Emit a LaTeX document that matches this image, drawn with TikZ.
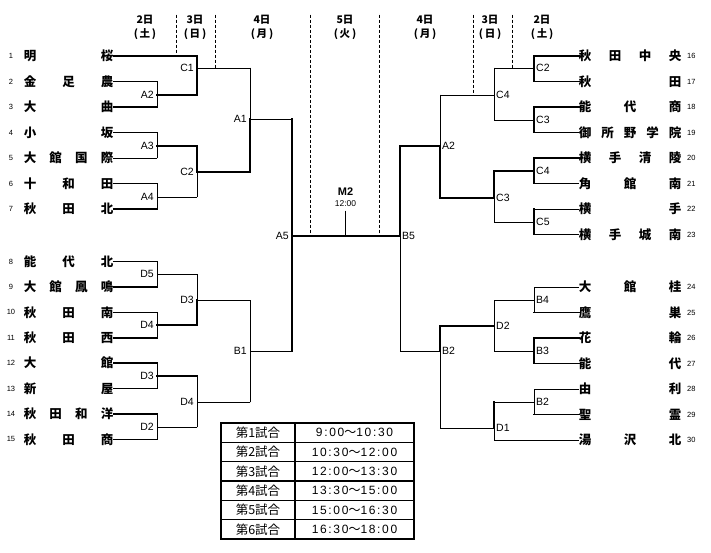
\documentclass[tikz,border=0pt]{standalone}
\usepackage{fontspec}
\setmainfont{Liberation Sans}
\newfontfamily\cjk{Noto Sans CJK JP}
\newfontfamily\labf{Liberation Sans}
\newfontfamily\timf{Liberation Sans}[LetterSpace=14]
\newcommand\wv{{\cjk 〜}}
\newcommand\LT[3]{\node[tname,anchor=east] (t#1) at (113.5,#2) {\makebox[89.5pt]{#3}};
  \node[tnum] (n#1) at (11,#2) {#1};}
\newcommand\RT[3]{\node[tname,anchor=west] (t#1) at (578.75,#2) {\makebox[102.5pt]{#3}};
  \node[tnum,anchor=west] (n#1) at (687,#2) {#1};}
\tikzset{
  tname/.style={inner sep=0pt, font=\cjk\bfseries\fontsize{12.5}{12.5}\selectfont},
  tnum/.style={inner sep=0pt, font=\labf\fontsize{7.5}{7.5}\selectfont},
  mlabL/.style={inner sep=0pt, anchor=east, xshift=-3pt, font=\labf\fontsize{10.5}{10.5}\selectfont},
  mlabR/.style={inner sep=0pt, anchor=west, xshift=2pt, font=\labf\fontsize{10.5}{10.5}\selectfont},
  hdr/.style={inner sep=0pt, font=\cjk\bfseries\fontsize{10.5}{10.5}\selectfont},
  thk/.style={line width=1.6pt},
  thn/.style={line width=0.7pt},
  dsh/.style={line width=0.8pt, dash pattern=on 3pt off 2pt},
  tcell/.style={inner sep=0pt, font=\cjk\fontsize{12.5}{12.5}\selectfont},
  ttime/.style={inner sep=0pt, font=\timf\fontsize{12}{12}\selectfont},
}
\begin{document}
\begin{tikzpicture}[x=1pt,y=-1pt,line cap=rect]
\fill[white] (0,0) rectangle (711,553);
\path[use as bounding box] (0,0) rectangle (711,553);

% ---------------- teams left
\LT{1}{56}{明\hfill 桜}
\LT{2}{81.5}{金\hfill 足\hfill 農}
\LT{3}{107}{大\hfill 曲}
\LT{4}{132.5}{小\hfill 坂}
\LT{5}{158}{大\hfill 館\hfill 国\hfill 際}
\LT{6}{183.5}{十\hfill 和\hfill 田}
\LT{7}{209}{秋\hfill 田\hfill 北}
\LT{8}{261.5}{能\hfill 代\hfill 北}
\LT{9}{287}{大\hfill 館\hfill 鳳\hfill 鳴}
\LT{10}{312.3}{秋\hfill 田\hfill 南}
\LT{11}{337.7}{秋\hfill 田\hfill 西}
\LT{12}{363.1}{大\hfill 館}
\LT{13}{388.5}{新\hfill 屋}
\LT{14}{413.9}{秋\hfill 田\hfill 和\hfill 洋}
\LT{15}{439.3}{秋\hfill 田\hfill 商}
% ---------------- teams right
\RT{16}{56}{秋\hfill 田\hfill 中\hfill 央}
\RT{17}{81.5}{秋\hfill 田}
\RT{18}{107}{能\hfill 代\hfill 商}
\RT{19}{132.5}{御\hfill 所\hfill 野\hfill 学\hfill 院}
\RT{20}{158}{横\hfill 手\hfill 清\hfill 陵}
\RT{21}{183.5}{角\hfill 館\hfill 南}
\RT{22}{209}{横\hfill 手}
\RT{23}{234.5}{横\hfill 手\hfill 城\hfill 南}
\RT{24}{287}{大\hfill 館\hfill 桂}
\RT{25}{312.5}{鷹\hfill 巣}
\RT{26}{338}{花\hfill 輪}
\RT{27}{363.5}{能\hfill 代}
\RT{28}{389}{由\hfill 利}
\RT{29}{414.5}{聖\hfill 霊}
\RT{30}{440}{湯\hfill 沢\hfill 北}

% ---------------- joints (left)
\coordinate (jA2) at (157,95);
\coordinate (jC1) at (197,68);
\coordinate (jA1) at (250,119);
\coordinate (jA3) at (157,146);
\coordinate (jC2) at (197,172);
\coordinate (jA4) at (157,197);
\coordinate (jA5) at (292,236);
\coordinate (jD5) at (157,274);
\coordinate (jD4) at (157,325);
\coordinate (jD3) at (197,300);
\coordinate (jD3b) at (157,376);
\coordinate (jD2) at (157,427);
\coordinate (jD4b) at (197,402);
\coordinate (jB1) at (250,351);
% joints (right)
\coordinate (kC2) at (534,68);
\coordinate (kC3) at (534,120);
\coordinate (kC4) at (494,95);
\coordinate (kC4b) at (534,171);
\coordinate (kC5) at (534,222);
\coordinate (kC3b) at (494,198);
\coordinate (kA2) at (440,146);
\coordinate (kB5) at (400,236);
\coordinate (kB4) at (534,300);
\coordinate (kB3) at (534,351);
\coordinate (kD2) at (494,326);
\coordinate (kB2) at (534,402);
\coordinate (kD1) at (494,428);
\coordinate (kB2b) at (440,351);

% ---------------- left upper bracket
\draw[thk] (t1.east) -- (t1.east -| jC1);
\draw[thk] (t2.east) -- (t2.east -| jA2);
\draw[thk] (t3.east) -- (t3.east -| jA2);
\draw[thn] (t4.east) -- (t4.east -| jA3);
\draw[thn] (t5.east) -- (t5.east -| jA3);
\draw[thk] (t6.east) -- (t6.east -| jA4);
\draw[thk] (t7.east) -- (t7.east -| jA4);
\draw[thn] (t2.east -| jA2) -- (t3.east -| jA2);
\draw[thk] (jA2) -- (jA2 -| jC1);
\draw[thk] (t1.east -| jC1) -- (jA2 -| jC1);
\draw[thn] (jC1) -- (jC1 -| jA1);
\draw[thn] (t4.east -| jA3) -- (t5.east -| jA3);
\draw[thk] (jA3) -- (jA3 -| jC2);
\draw[thn] (t6.east -| jA4) -- (t7.east -| jA4);
\draw[thn] (jA4) -- (jA4 -| jC2);
\draw[thk] (jA3 -| jC2) -- (jC2);
\draw[thn] (jC2) -- (jA4 -| jC2);
\draw[thk] (jC2) -- (jC2 -| jA1);
\draw[thn] (jC1 -| jA1) -- (jA1);
\draw[thk] (jA1) -- (jC2 -| jA1);
\draw[thn] (jA1) -- (jA1 -| jA5);
\draw[thk] (jA1 -| jA5) -- (jB1 -| jA5);
\draw[thk] (jA5) -- (kB5);
% ---------------- left lower bracket
\draw[thk] (t8.east) -- (t8.east -| jD5);
\draw[thk] (t9.east) -- (t9.east -| jD5);
\draw[thn] (t10.east) -- (t10.east -| jD4);
\draw[thk] (t11.east) -- (t11.east -| jD4);
\draw[thk] (t12.east) -- (t12.east -| jD3b);
\draw[thn] (t13.east) -- (t13.east -| jD3b);
\draw[thk] (t14.east) -- (t14.east -| jD2);
\draw[thn] (t15.east) -- (t15.east -| jD2);
\draw[thn] (t8.east -| jD5) -- (t9.east -| jD5);
\draw[thn] (jD5) -- (jD5 -| jD3);
\draw[thn] (t10.east -| jD4) -- (t11.east -| jD4);
\draw[thk] (jD4) -- (jD4 -| jD3);
\draw[thn] (jD5 -| jD3) -- (jD3);
\draw[thk] (jD3) -- (jD4 -| jD3);
\draw[thn] (jD3) -- (jD3 -| jB1);
\draw[thn] (t12.east -| jD3b) -- (t13.east -| jD3b);
\draw[thk] (jD3b) -- (jD3b -| jD4b);
\draw[thn] (t14.east -| jD2) -- (t15.east -| jD2);
\draw[thn] (jD2) -- (jD2 -| jD4b);
\draw[thn] (jD3b -| jD4b) -- (jD2 -| jD4b);
\draw[thn] (jD4b) -- (jD4b -| jB1);
\draw[thn] (jD3 -| jB1) -- (jD4b -| jB1);
\draw[thn] (jB1) -- (jB1 -| jA5);

% ---------------- right upper bracket
\draw[thk] (t16.west) -- (t16.west -| kC2);
\draw[thk] (t17.west) -- (t17.west -| kC2);
\draw[thk] (t18.west) -- (t18.west -| kC3);
\draw[thn] (t19.west) -- (t19.west -| kC3);
\draw[thk] (t20.west) -- (t20.west -| kC4b);
\draw[thn] (t21.west) -- (t21.west -| kC4b);
\draw[thn] (t22.west) -- (t22.west -| kC5);
\draw[thn] (t23.west) -- (t23.west -| kC5);
\draw[thk] (t16.west -| kC2) -- (t17.west -| kC2);
\draw[thn] (kC2) -- (kC2 -| kC4);
\draw[thk] (t18.west -| kC3) -- (t19.west -| kC3);
\draw[thn] (kC3) -- (kC3 -| kC4);
\draw[thn] (kC2 -| kC4) -- (kC3 -| kC4);
\draw[thn] (kC4) -- (kC4 -| kA2);
\draw[thk] (t20.west -| kC4b) -- (t21.west -| kC4b);
\draw[thk] (kC4b) -- (kC4b -| kC3b);
\draw[thk] (t22.west -| kC5) -- (t23.west -| kC5);
\draw[thn] (kC5) -- (kC5 -| kC3b);
\draw[thk] (kC4b -| kC3b) -- (kC3b);
\draw[thn] (kC3b) -- (kC5 -| kC3b);
\draw[thk] (kC3b) -- (kC3b -| kA2);
\draw[thn] (kC4 -| kA2) -- (kA2);
\draw[thk] (kA2) -- (kC3b -| kA2);
\draw[thk] (kA2) -- (kA2 -| kB5);
\draw[thk] (kA2 -| kB5) -- (kB5);
\draw[thn] (kB5) -- (kB2b -| kB5);
% ---------------- right lower bracket
\draw[thn] (t24.west) -- (t24.west -| kB4);
\draw[thk] (t25.west) -- (t25.west -| kB4);
\draw[thk] (t26.west) -- (t26.west -| kB3);
\draw[thk] (t27.west) -- (t27.west -| kB3);
\draw[thn] (t28.west) -- (t28.west -| kB2);
\draw[thk] (t29.west) -- (t29.west -| kB2);
\draw[thn] (t30.west) -- (t30.west -| kD1);
\draw[thn] (t24.west -| kB4) -- (t25.west -| kB4);
\draw[thn] (kB4) -- (kB4 -| kD2);
\draw[thk] (t26.west -| kB3) -- (t27.west -| kB3);
\draw[thn] (kB3) -- (kB3 -| kD2);
\draw[thn] (kB4 -| kD2) -- (kB3 -| kD2);
\draw[thk] (kD2) -- (kD2 -| kB2b);
\draw[thn] (t28.west -| kB2) -- (t29.west -| kB2);
\draw[thn] (kB2) -- (kB2 -| kD1);
\draw[thk] (kB2 -| kD1) -- (kD1);
\draw[thn] (kD1) -- (t30.west -| kD1);
\draw[thn] (kD1) -- (kD1 -| kB2b);
\draw[thk] (kD2 -| kB2b) -- (kB2b);
\draw[thn] (kB2b) -- (kD1 -| kB2b);
\draw[thn] (kB2b) -- (kB2b -| kB5);

% ---------------- match labels
\node[mlabL] (lA2) at (jA2) {A2};
\node[mlabL] (lC1) at (jC1) {C1};
\node[mlabL] (lA1) at (jA1) {A1};
\node[mlabL] (lA3) at (jA3) {A3};
\node[mlabL] (lC2) at (jC2) {C2};
\node[mlabL] (lA4) at (jA4) {A4};
\node[mlabL] (lA5) at (jA5) {A5};
\node[mlabL] (lD5) at (jD5) {D5};
\node[mlabL] (lD4) at (jD4) {D4};
\node[mlabL] (lD3) at (jD3) {D3};
\node[mlabL] (lD3b) at (jD3b) {D3};
\node[mlabL] (lD2) at (jD2) {D2};
\node[mlabL] (lD4b) at (jD4b) {D4};
\node[mlabL] (lB1) at (jB1) {B1};
\node[mlabR] (mC2) at (kC2) {C2};
\node[mlabR] (mC3) at (kC3) {C3};
\node[mlabR] (mC4) at (kC4) {C4};
\node[mlabR] (mC4b) at (kC4b) {C4};
\node[mlabR] (mC5) at (kC5) {C5};
\node[mlabR] (mC3b) at (kC3b) {C3};
\node[mlabR] (mA2) at (kA2) {A2};
\node[mlabR] (mB5) at (kB5) {B5};
\node[mlabR] (mB4) at (kB4) {B4};
\node[mlabR] (mB3) at (kB3) {B3};
\node[mlabR] (mD2) at (kD2) {D2};
\node[mlabR] (mB2) at (kB2) {B2};
\node[mlabR] (mD1) at (kD1) {D1};
\node[mlabR] (mB2b) at (kB2b) {B2};

% ---------------- final
\coordinate (jM) at (345.5,236);
\coordinate (jMtop) at (345.5,211);
\draw[thn] (jM) -- (jMtop);
\node[inner sep=0pt, font=\labf\bfseries\fontsize{11}{11}\selectfont] (fM2) at (345.5,192) {M2};
\node[inner sep=0pt, font=\labf\fontsize{8.5}{8.5}\selectfont] (fT) at (345.5,204) {12:00};

% ---------------- day header
\coordinate (d1a) at (176,15);  \coordinate (d1b) at (176,54);
\coordinate (d2a) at (215,15);  \coordinate (d2b) at (215,68);
\coordinate (d3a) at (310,15);  \coordinate (d3b) at (310,236);
\coordinate (d4a) at (379,15);  \coordinate (d4b) at (379,236);
\coordinate (d5a) at (473,15);  \coordinate (d5b) at (473,95);
\coordinate (d6a) at (512,15);  \coordinate (d6b) at (512,68);
\foreach \i in {1,...,6} {\draw[dsh] (d\i a) -- (d\i b);}
\node[hdr] (h1) at (145,20) {2日};   \node[hdr] (h1w) at (145,34) {(\,土\,)};
\node[hdr] (h2) at (195,20) {3日};   \node[hdr] (h2w) at (195,34) {(\,日\,)};
\node[hdr] (h3) at (262,20) {4日};   \node[hdr] (h3w) at (262,34) {(\,月\,)};
\node[hdr] (h4) at (345,20) {5日};   \node[hdr] (h4w) at (345,34) {(\,火\,)};
\node[hdr] (h5) at (425,20) {4日};   \node[hdr] (h5w) at (425,34) {(\,月\,)};
\node[hdr] (h6) at (490,20) {3日};   \node[hdr] (h6w) at (490,34) {(\,日\,)};
\node[hdr] (h7) at (542,20) {2日};   \node[hdr] (h7w) at (542,34) {(\,土\,)};

% ---------------- time table
\draw[line width=1.4pt] (221,423) rectangle (414,539);
\foreach \k in {1,...,5} {\draw[line width=1.1pt] (221,423+19.333*\k) -- (414,423+19.333*\k);}
\draw[line width=1.1pt] (295,423) -- (295,539);
\foreach \k/\tm in {1/{9:00\wv 10:30},2/{10:30\wv 12:00},3/{12:00\wv 13:30},4/{13:30\wv 15:00},5/{15:00\wv 16:30},6/{16:30\wv 18:00}} {
  \node[tcell] (g\k) at (258,423+19.333*\k-9.667) {第\k 試合};
  \node[ttime] (tm\k) at (354.5,423+19.333*\k-9.667) {\tm};
}
\end{tikzpicture}
\end{document}
